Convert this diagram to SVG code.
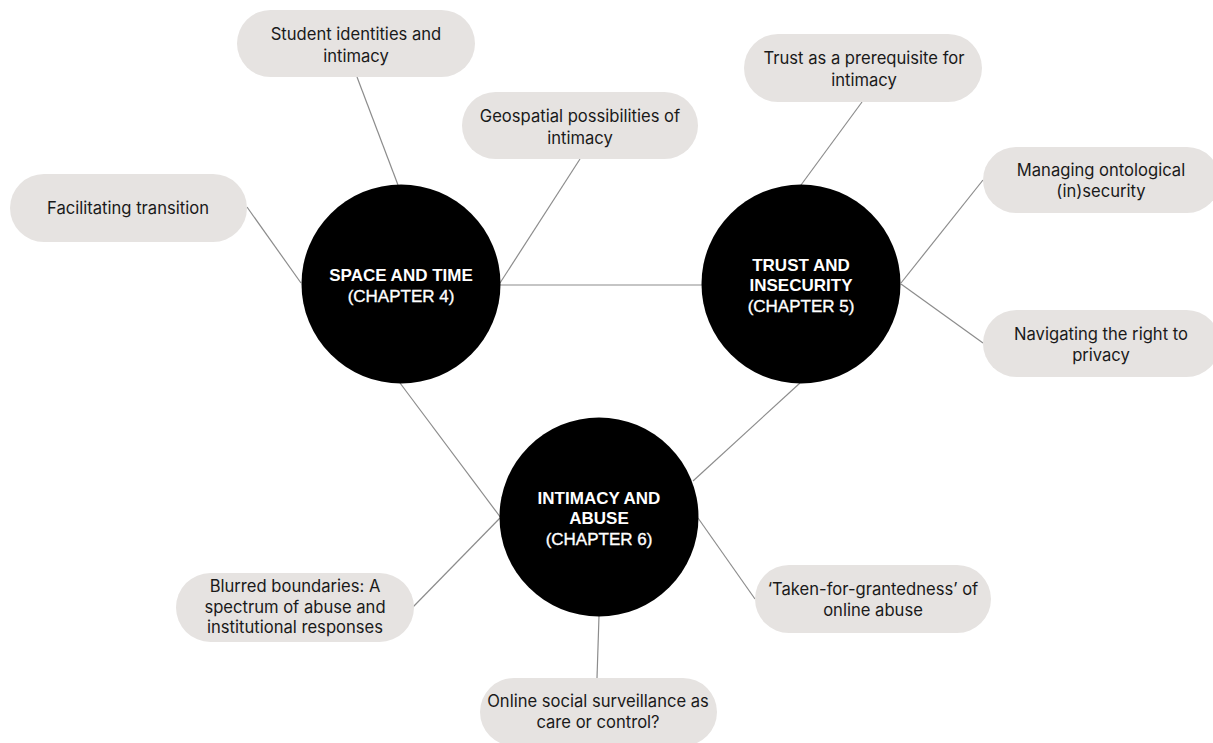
<svg xmlns="http://www.w3.org/2000/svg" width="1213" height="743" viewBox="0 0 1213 743">
<style>
.pill{fill:#e6e3e1}
.pt{font-family:Inter,"Liberation Sans",sans-serif;font-size:16.6px;fill:#1a1a1a;text-anchor:middle}
.hub{fill:#000}
.ht{font-family:"Liberation Sans",Arial,sans-serif;font-size:17px;font-weight:bold;fill:#fff;text-anchor:middle}
.hc{font-weight:normal;stroke:#fff;stroke-width:0.35}
.conn line{stroke:#8c8c8c;stroke-width:1.2}
</style>
<rect width="1213" height="743" fill="#fff"/>
<g class="conn" id="connectors">
<line x1="500" y1="285" x2="702" y2="285"/>
<line x1="357" y1="77" x2="398" y2="185"/>
<line x1="247" y1="207" x2="301" y2="283"/>
<line x1="580" y1="159" x2="500" y2="283"/>
<line x1="862" y1="102" x2="801" y2="185"/>
<line x1="901" y1="283" x2="983" y2="180"/>
<line x1="901" y1="284" x2="983" y2="343"/>
<line x1="800" y1="383" x2="693" y2="481"/>
<line x1="400" y1="383" x2="501" y2="518"/>
<line x1="500" y1="518" x2="413" y2="607"/>
<line x1="698" y1="518" x2="755" y2="599"/>
<line x1="599" y1="616" x2="597" y2="678"/>
</g>
<g id="hub-space">
<circle class="hub" cx="401" cy="284" r="99.5"/>
<text class="ht" x="401" y="281">SPACE AND TIME</text>
<text class="ht hc" x="401" y="302">(CHAPTER 4)</text>
</g>
<g id="hub-trust">
<circle class="hub" cx="801" cy="284" r="99.5"/>
<text class="ht" x="801" y="271">TRUST AND</text>
<text class="ht" x="801" y="291">INSECURITY</text>
<text class="ht hc" x="801" y="312">(CHAPTER 5)</text>
</g>
<g id="hub-intimacy">
<circle class="hub" cx="599" cy="517" r="99.5"/>
<text class="ht" x="599" y="504">INTIMACY AND</text>
<text class="ht" x="599" y="524">ABUSE</text>
<text class="ht hc" x="599" y="545">(CHAPTER 6)</text>
</g>
<g id="student-identities">
<rect class="pill" x="237" y="10" width="238" height="67" rx="33.5"/>
<text class="pt" x="356" y="40">Student identities and</text>
<text class="pt" x="356" y="62">intimacy</text>
</g>
<g id="facilitating-transition">
<rect class="pill" x="10" y="174" width="237" height="68" rx="34"/>
<text class="pt" x="128" y="214">Facilitating transition</text>
</g>
<g id="geospatial">
<rect class="pill" x="462" y="92" width="236" height="67" rx="33.5"/>
<text class="pt" x="580" y="122">Geospatial possibilities of</text>
<text class="pt" x="580" y="144">intimacy</text>
</g>
<g id="trust-prerequisite">
<rect class="pill" x="744" y="34" width="238" height="68" rx="34"/>
<text class="pt" x="864" y="64">Trust as a prerequisite for</text>
<text class="pt" x="864" y="86">intimacy</text>
</g>
<g id="ontological">
<rect class="pill" x="983" y="147" width="237" height="66" rx="33"/>
<text class="pt" x="1101" y="176">Managing ontological</text>
<text class="pt" x="1101" y="197">(in)security</text>
</g>
<g id="privacy">
<rect class="pill" x="983" y="310" width="237" height="67" rx="33.5"/>
<text class="pt" x="1101" y="340">Navigating the right to</text>
<text class="pt" x="1101" y="361">privacy</text>
</g>
<g id="blurred-boundaries">
<rect class="pill" x="176" y="573" width="238" height="69" rx="34.5"/>
<text class="pt" x="295" y="592">Blurred boundaries: A</text>
<text class="pt" x="295" y="613">spectrum of abuse and</text>
<text class="pt" x="295" y="633">institutional responses</text>
</g>
<g id="taken-for-grantedness">
<rect class="pill" x="755" y="565" width="236" height="68" rx="34"/>
<text class="pt" x="873" y="595">‘Taken-for-grantedness’ of</text>
<text class="pt" x="873" y="616">online abuse</text>
</g>
<g id="surveillance">
<rect class="pill" x="480" y="678" width="237" height="68" rx="34"/>
<text class="pt" x="598" y="707">Online social surveillance as</text>
<text class="pt" x="598" y="728">care or control?</text>
</g>
</svg>
